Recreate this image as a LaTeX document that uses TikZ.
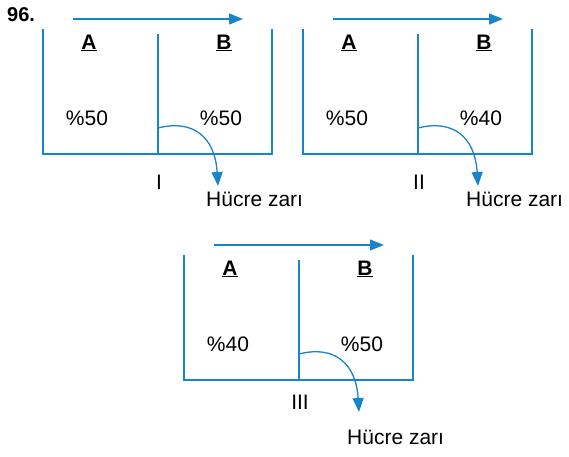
\documentclass[tikz,border=0pt]{standalone}
\usepackage{fontspec}
\setmainfont{Liberation Sans}
\usetikzlibrary{arrows.meta}
\definecolor{wallblue}{RGB}{24,132,204}
\tikzset{
  wall/.style={draw=wallblue, line width=1.3pt},
  flow/.style={draw=wallblue, line width=1.3pt, -{Triangle[length=14pt,width=11pt]}},
  txt/.style={inner sep=0pt, font=\fontsize{21}{25}\selectfont},
  lbl/.style={txt, font=\fontsize{20}{24}\selectfont\bfseries}
}
\newcommand\drawpanel[8]{%
  \begin{scope}[shift={(#2,#3)}]
    \coordinate (#1lt) at (0,0);
    \coordinate (#1lb) at (0,125);
    \coordinate (#1rt) at (229,0);
    \coordinate (#1rb) at (229,125);
    \coordinate (#1dt) at (115,5);
    \coordinate (#1db) at (115,125);
    \coordinate (#1as) at (30,-10);
    \coordinate (#1ae) at (200,-10);
    \coordinate (#1cs) at (115,99);
    \coordinate (#1ce) at (175,157);
    \draw[wall] (#1lt) -- (#1lb) -- (#1rb) -- (#1rt);
    \draw[wall] (#1dt) -- (#1db);
    \draw[flow] (#1as) -- (#1ae);
    \draw[flow] (#1cs) .. controls (150,90) and (172,108) .. (#1ce);
    \node[txt] (#1A) at (46,14) {\underline{\textbf{A}}};
    \node[txt] (#1B) at (181,14) {\underline{\textbf{B}}};
    \node[txt] (#1pl) at (44,89) {\%#4};
    \node[txt] (#1pr) at (178,89) {\%#5};
    \node[txt] (#1roman) at (116,#7) {#6};
    \node[txt, anchor=west] (#1hz) at (163,#8) {Hücre zarı};
  \end{scope}}
\begin{document}
\begin{tikzpicture}[x=1pt,y=-1pt]
  \useasboundingbox (0,0) rectangle (569,456);
  \node[lbl, anchor=west] (num) at (7,15) {96.};
  \drawpanel{p1}{43}{29}{50}{50}{I}{153}{170}
  \drawpanel{p2}{303}{29}{50}{40}{II}{153}{170}
  \drawpanel{p3}{184}{255}{40}{50}{III}{147}{182}
\end{tikzpicture}
\end{document}
